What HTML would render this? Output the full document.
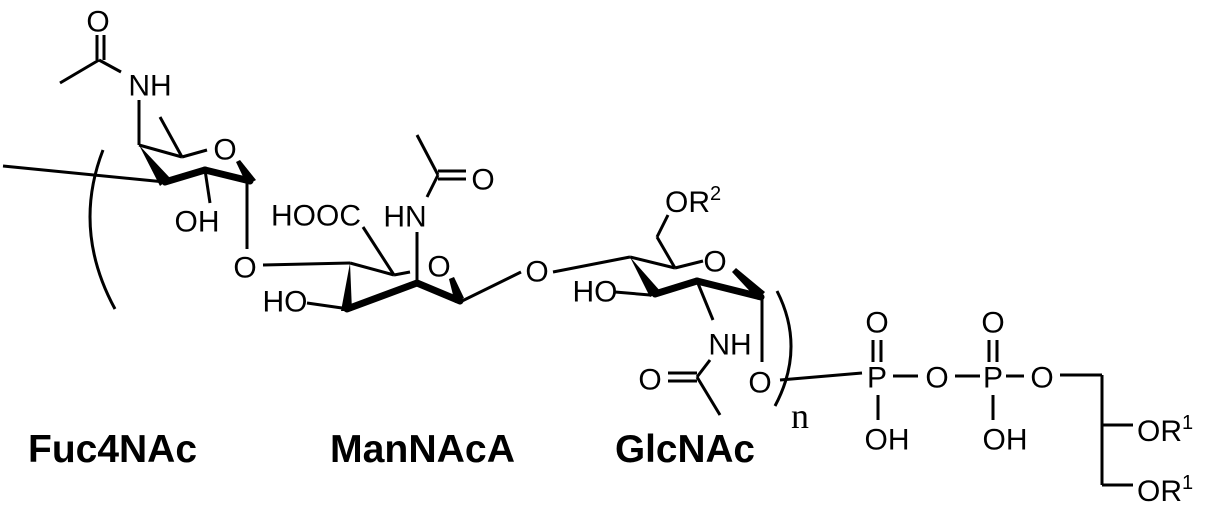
<!DOCTYPE html>
<html><head><meta charset="utf-8"><style>
html,body{margin:0;padding:0;background:#fff;}
svg{display:block;}
text{font-family:"Liberation Sans",sans-serif;fill:#000;}
.a{font-size:30px;}
.lab{font-size:39px;font-weight:bold;}
.n{font-family:"Liberation Serif",serif;font-size:36px;}
</style></head><body>
<svg width="1210" height="510" viewBox="0 0 1210 510" xmlns="http://www.w3.org/2000/svg">
<g stroke="#000" stroke-width="3" fill="none" stroke-linecap="butt">
<line x1="97" y1="35" x2="97" y2="60"/><line x1="104" y1="35" x2="104" y2="60"/>
<line x1="60" y1="83" x2="99" y2="60"/><line x1="99" y1="60" x2="121" y2="72"/>
<line x1="139" y1="100" x2="139" y2="145"/>
<line x1="160" y1="117" x2="182" y2="157"/>
<line x1="139" y1="145" x2="182" y2="157"/>
<line x1="182" y1="157" x2="207" y2="150"/>
<line x1="3" y1="166" x2="165" y2="182"/>
<line x1="205" y1="170" x2="210" y2="203"/>
<line x1="247" y1="182" x2="247" y2="249"/>
<path d="M103 150 Q72 230 115 309"/>
<line x1="263" y1="265" x2="350" y2="263"/>
<line x1="417" y1="135" x2="438" y2="175"/>
<line x1="438" y1="171" x2="466" y2="171"/><line x1="438" y1="179" x2="466" y2="179"/>
<line x1="438" y1="175" x2="427" y2="197"/>
<line x1="417" y1="232" x2="417" y2="283"/>
<line x1="363" y1="227" x2="394" y2="275"/>
<line x1="350" y1="263" x2="394" y2="275"/>
<line x1="394" y1="275" x2="410" y2="272"/>
<line x1="460" y1="302" x2="521" y2="272"/>
<line x1="307" y1="303" x2="342" y2="308"/>
<line x1="553" y1="272" x2="630" y2="257"/>
<line x1="630" y1="257" x2="675" y2="268"/>
<line x1="675" y1="268" x2="703" y2="261"/>
<line x1="675" y1="268" x2="657" y2="237"/><line x1="657" y1="237" x2="668" y2="215"/>
<line x1="615" y1="292" x2="650" y2="295"/>
<line x1="697" y1="281" x2="713" y2="320"/>
<line x1="710" y1="360" x2="697" y2="377"/>
<line x1="668" y1="373" x2="697" y2="373"/><line x1="668" y1="381" x2="697" y2="381"/>
<line x1="697" y1="377" x2="720" y2="415"/>
<line x1="762" y1="297" x2="762" y2="362"/>
<path d="M777 291 Q806 348 775 406"/>
<line x1="780" y1="380" x2="862" y2="373"/>
<line x1="873" y1="340" x2="873" y2="362"/><line x1="881" y1="340" x2="881" y2="362"/>
<line x1="878" y1="395" x2="878" y2="420"/>
<line x1="893" y1="376" x2="918" y2="376"/>
<line x1="955" y1="376" x2="980" y2="376"/>
<line x1="989" y1="340" x2="989" y2="362"/><line x1="997" y1="340" x2="997" y2="362"/>
<line x1="993" y1="395" x2="993" y2="420"/>
<line x1="1006" y1="376" x2="1024" y2="376"/>
<line x1="1060" y1="375" x2="1102" y2="375"/>
<line x1="1102" y1="375" x2="1102" y2="485"/>
<line x1="1102" y1="425" x2="1133" y2="425"/>
<line x1="1102" y1="485" x2="1133" y2="485"/>
</g>
<g stroke="#000" stroke-width="7" stroke-linecap="round">
<line x1="165" y1="182" x2="205" y2="170"/>
<line x1="205" y1="170" x2="250" y2="181"/>
<line x1="347" y1="309" x2="417" y2="283"/>
<line x1="417" y1="283" x2="460" y2="301"/>
<line x1="655" y1="294" x2="697" y2="281"/>
<line x1="697" y1="281" x2="761" y2="297"/>
</g>
<g fill="#000">
<polygon points="139,145 160,186 170,178"/>
<polygon points="236,162 240,160 256,180 247,185"/>
<polygon points="350,263 341,311 352,311"/>
<polygon points="449,279 454,277 464,298 455,303"/>
<polygon points="630,257 650,297 661,292"/>
<polygon points="732,272 736,268 765,292 758,300"/>
</g>
<g class="a" text-anchor="middle" dominant-baseline="central">
<text x="98" y="22">O</text>
<text x="150" y="86">NH</text>
<text x="225" y="150">O</text>
<text x="197" y="222">OH</text>
<text x="245" y="268">O</text>
<text x="316" y="216">HOOC</text>
<text x="405" y="217">HN</text>
<text x="483" y="180">O</text>
<text x="439" y="267">O</text>
<text x="537" y="272">O</text>
<text x="285" y="302">HO</text>
<text x="715" y="262">O</text>
<text x="595" y="292">HO</text>
<text x="730" y="345">NH</text>
<text x="650" y="380">O</text>
<text x="760" y="383">O</text>
<text x="877" y="323">O</text>
<text x="877" y="378">P</text>
<text x="887" y="440">OH</text>
<text x="937" y="378">O</text>
<text x="993" y="323">O</text>
<text x="993" y="378">P</text>
<text x="1005" y="440">OH</text>
<text x="1042" y="378">O</text>
</g>
<g class="a">
<text x="665" y="212">OR<tspan font-size="20" dy="-12">2</tspan></text>
<text x="1137" y="441">OR<tspan font-size="20" dy="-12">1</tspan></text>
<text x="1137" y="501">OR<tspan font-size="20" dy="-12">1</tspan></text>
</g>
<text class="n" x="791" y="428">n</text>
<text class="lab" x="28" y="462" textLength="169" lengthAdjust="spacingAndGlyphs">Fuc4NAc</text>
<text class="lab" x="330" y="462" textLength="185" lengthAdjust="spacingAndGlyphs">ManNAcA</text>
<text class="lab" x="615" y="462" textLength="140" lengthAdjust="spacingAndGlyphs">GlcNAc</text>
</svg>
</body></html>
